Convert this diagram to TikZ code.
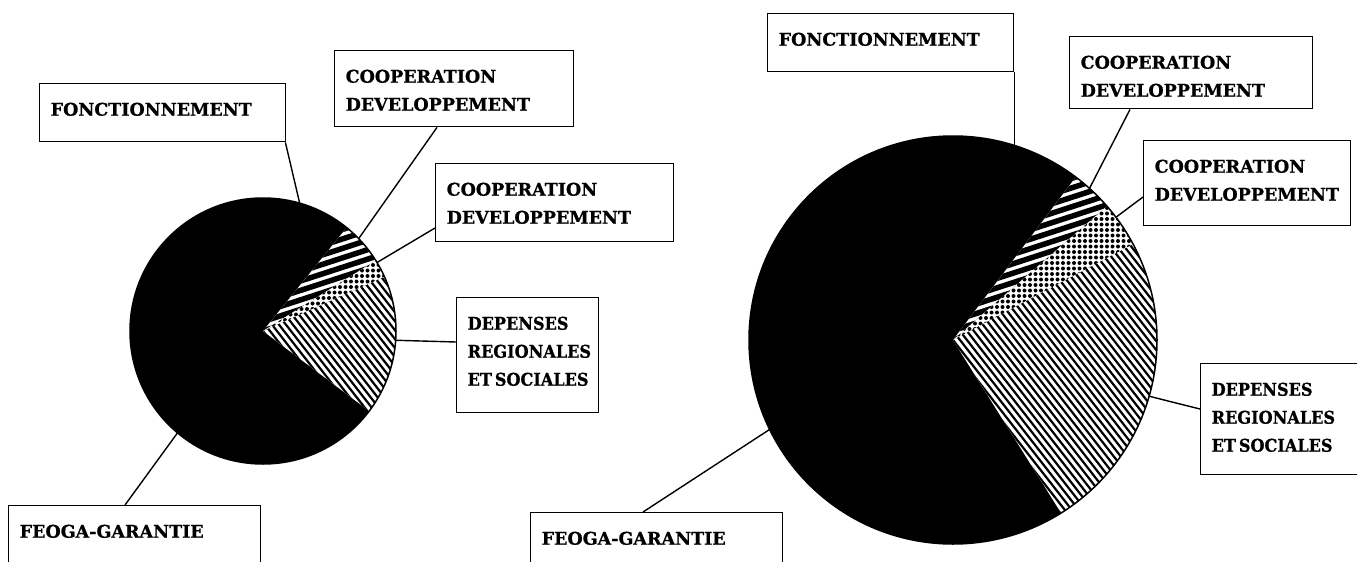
\documentclass[tikz,border=0pt]{standalone}
\usepackage{fontspec}
\setmainfont{DejaVu Serif}[BoldFeatures={FakeBold=0.8}]
\usetikzlibrary{calc}
\newcommand{\lblfont}{\fontsize{17.5}{28}\selectfont\bfseries}
\newcommand{\narrow}{\addfontfeature{FakeStretch=0.92}}
\newcommand{\boxtext}[3]{\parbox[t][#2][t]{#1}{\raggedright\leftskip=11pt\rule{0pt}{32pt}#3}}
\tikzset{
  lbl/.style={draw, line width=1.4pt, anchor=north west, inner sep=0pt, font=\lblfont},
  lead/.style={line width=1.4pt},
  % y axis points down, so angles are measured clockwise
  pics/pie/.style n args={5}{code={%
      \fill[black] (0,0) circle[radius=#1];
      % striped sector
      \begin{scope}
        \clip (0,0) -- (#2:#1) arc[start angle=#2, end angle=#3, radius=#1] -- cycle;
        \fill[white] (-#1,-#1) rectangle (#1,#1);
        \foreach \k in {-24,...,24}
          \draw[line width=5.5pt] ([shift={(72:\k*9)}]-18:-#1) -- ([shift={(72:\k*9)}]-18:#1);
      \end{scope}
      % dotted sector
      \begin{scope}
        \clip (0,0) -- (#3:#1) arc[start angle=#3, end angle=#4, radius=#1] -- cycle;
        \fill[white] (-#1,-#1) rectangle (#1,#1);
        \foreach \i in {0,...,37}
          \foreach \j in {0,...,27}
            \fill (\i*5.5,-\j*5.5) circle[radius=2];
      \end{scope}
      % hatched sector
      \begin{scope}
        \clip (0,0) -- (#4:#1) arc[start angle=#4, end angle=#5, radius=#1] -- cycle;
        \fill[white] (-#1,-#1) rectangle (#1,#1);
        \foreach \k in {-38,...,38}
          \draw[line width=2.2pt] ([shift={(-38:\k*5.5)}]52:-#1) -- ([shift={(-38:\k*5.5)}]52:#1);
      \end{scope}
      \draw[line width=1.5pt] (0,0) circle[radius=#1];
  }}
}
\begin{document}
\begin{tikzpicture}[x=1pt, y=-1pt]
    \useasboundingbox (0,0) rectangle (1357,562);

    % coordinates to be reused
    \coordinate (L) at (263,331);
    \coordinate (R) at (953,340);
    \coordinate (lfonc-e) at ($(L)+(-74:133)$);
    \coordinate (lcoop1-e) at ($(L)+(-44:133)$);
    \coordinate (lcoop2-e) at ($(L)+(-31:133)$);
    \coordinate (ldep-e) at ($(L)+(4:133)$);
    \coordinate (lfeoga-e) at ($(L)+(130:133)$);
    \coordinate (rfonc-e) at ($(R)+(-73:204)$);
    \coordinate (rcoop1-e) at ($(R)+(-48:204)$);
    \coordinate (rcoop2-e) at ($(R)+(-37:204)$);
    \coordinate (rdep-e) at ($(R)+(16:204)$);
    \coordinate (rfeoga-e) at ($(R)+(154:204)$);

    % draw pies
    \pic at (L) {pie={133}{-51}{-32}{-24}{37}};
    \pic at (R) {pie={204}{-53}{-41}{-28}{58}};

    % left labels
    \node[lbl] (lfonc) at (39,83) {\boxtext{246pt}{58pt}{FONCTIONNEMENT}};
    \node[lbl] (lcoop1) at (334,50) {\boxtext{239pt}{76pt}{COOPERATION\\DEVELOPPEMENT}};
    \node[lbl] (lcoop2) at (435,163) {\boxtext{238pt}{78pt}{COOPERATION\\DEVELOPPEMENT}};
    \node[lbl] (ldep) at (456,297) {\boxtext{142pt}{115pt}{\narrow DEPENSES\\REGIONALES\\ET\,SOCIALES}};
    \node[lbl] (lfeoga) at (8,505) {\boxtext{252pt}{57pt}{FEOGA-GARANTIE}};

    % right labels
    \node[lbl] (rfonc) at (767,13) {\boxtext{246pt}{58pt}{FONCTIONNEMENT}};
    \node[lbl] (rcoop1) at (1069,36) {\boxtext{243pt}{72pt}{COOPERATION\\DEVELOPPEMENT}};
    \node[lbl] (rcoop2) at (1143,140) {\boxtext{207pt}{85pt}{COOPERATION\\DEVELOPPEMENT}};
    \node[lbl] (rdep) at (1200,363) {\boxtext{200pt}{111pt}{\narrow DEPENSES\\REGIONALES\\ET\,SOCIALES}};
    \node[lbl] (rfeoga) at (530,512) {\boxtext{252pt}{55pt}{FEOGA-GARANTIE}};

    % leader lines
    \draw[lead] ([xshift=-1pt]lfonc.south east) -- (lfonc-e);
    \draw[lead] ([xshift=103pt]lcoop1.south west) -- (lcoop1-e);
    \draw[lead] ([yshift=-65pt]lcoop2.north west) -- (lcoop2-e);
    \draw[lead] ([yshift=-45pt]ldep.north west) -- (ldep-e);
    \draw[lead] ([xshift=117pt]lfeoga.north west) -- (lfeoga-e);
    \draw[lead] (rfonc.south east) -- (rfonc.south east |- rfonc-e);
    \draw[lead] ([xshift=61pt]rcoop1.south west) -- (rcoop1-e);
    \draw[lead] ([yshift=-57pt]rcoop2.north west) -- (rcoop2-e);
    \draw[lead] ([yshift=-46pt]rdep.north west) -- (rdep-e);
    \draw[lead] ([xshift=113pt]rfeoga.north west) -- (rfeoga-e);
\end{tikzpicture}
\end{document}
